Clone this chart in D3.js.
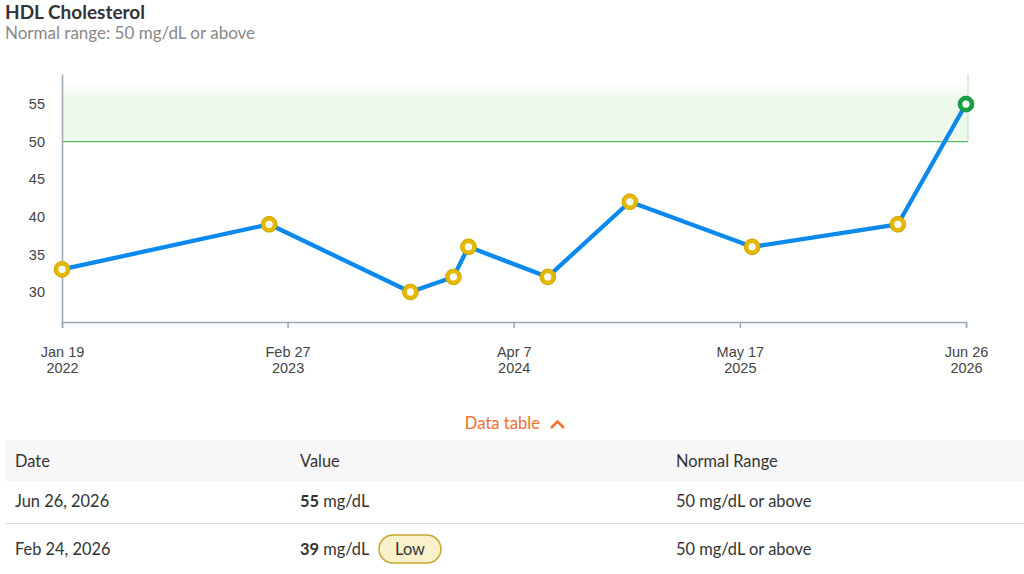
<!DOCTYPE html>
<html><head><meta charset="utf-8">
<script src="https://cdn.jsdelivr.net/npm/d3@7"></script>
<style>body{margin:0;background:#fff}svg{display:block}</style>
</head><body>
<svg id="c" width="1024" height="574"></svg>
<script>
// ---- data ----
const dates = ["2022-01-19","2023-01-25","2023-10-05","2023-12-21","2024-01-17","2024-06-07","2024-11-01","2025-06-08","2026-02-24","2026-06-26"];
const values = [33,39,30,32,36,32,42,36,39,55];
const xTickDates = ["2022-01-19","2023-02-27","2024-04-07","2025-05-17","2026-06-26"];
const yTicks = [30,35,40,45,50,55];
const normalMin = 50;
const tableHeaders = ["Date","Value","Normal Range"];
const tableDates = ["Jun 26, 2026","Feb 24, 2026"];
const tableValues = [55,39];
const tableFlags = ["","Low"];
const tableRange = ["50 mg/dL or above","50 mg/dL or above"];

const parse = d3.utcParse("%Y-%m-%d");
const data = dates.map((d,i)=>({date:parse(d), value:values[i]}));
const svg = d3.select("#c");
const sans = "Lato, 'Source Sans Pro', sans-serif";
const axisFont = "'Liberation Sans', Arial, sans-serif";

// title
svg.append("text").attr("x",5).attr("y",19).attr("font-family",sans).attr("font-weight",700)
  .attr("font-size",19).attr("fill","#333").text("HDL Cholesterol");
svg.append("text").attr("x",5).attr("y",39).attr("font-family",sans)
  .attr("font-size",17).attr("fill","#888").text("Normal range: 50 mg/dL or above");

const x = d3.scaleUtc().domain([parse(xTickDates[0]), parse(xTickDates[xTickDates.length-1])]).range([62,966]);
const y = d3.scaleLinear().domain([26,59]).range([322,74]);

// normal band with fading top
const defs = svg.append("defs");
const g = defs.append("linearGradient").attr("id","band").attr("x1",0).attr("x2",0).attr("y1",0).attr("y2",1);
g.append("stop").attr("offset","0%").attr("stop-color","#edf9ec").attr("stop-opacity",0);
g.append("stop").attr("offset","12%").attr("stop-color","#edf9ec").attr("stop-opacity",0);
g.append("stop").attr("offset","35%").attr("stop-color","#edf9ec").attr("stop-opacity",1);
g.append("stop").attr("offset","100%").attr("stop-color","#edf9ec").attr("stop-opacity",1);
svg.append("rect").attr("x",x.range()[0]).attr("y",y(59)).attr("width",x.range()[1]-x.range()[0]+2)
  .attr("height",y(normalMin)-y(59)).attr("fill","url(#band)");
svg.append("line").attr("x1",x.range()[1]+2).attr("x2",x.range()[1]+2).attr("y1",y(59)).attr("y2",y(normalMin))
  .attr("stroke","#b5e2b8").attr("stroke-width",1);
svg.append("line").attr("x1",x.range()[0]).attr("x2",x.range()[1]+2).attr("y1",y(normalMin)).attr("y2",y(normalMin))
  .attr("stroke","#5cbd69").attr("stroke-width",1.2);

// axes
const axisColor = "#9aa9b5";
const xAxis = svg.append("g").attr("transform","translate(0,322)")
  .call(d3.axisBottom(x).tickValues(xTickDates.map(parse)).tickSize(6).tickFormat(""));
xAxis.select(".domain").attr("stroke",axisColor).attr("stroke-width",1.5);
xAxis.selectAll(".tick line").attr("stroke",axisColor).attr("stroke-width",1.5);
xAxis.selectAll(".tick").each(function(d){
  const t = d3.select(this).append("text").attr("fill","#444").attr("font-family",axisFont)
    .attr("font-size",14.5).attr("text-anchor","middle");
  t.append("tspan").attr("x",0).attr("y",35).text(d3.utcFormat("%b %-d")(d));
  t.append("tspan").attr("x",0).attr("y",51).text(d3.utcFormat("%Y")(d));
});
const yAxis = svg.append("g").attr("transform","translate(62,0)")
  .call(d3.axisLeft(y).tickValues(yTicks).tickSize(0).tickPadding(17).tickSizeOuter(0));
yAxis.select(".domain").attr("stroke",axisColor).attr("stroke-width",1.5);
yAxis.selectAll(".tick text").attr("fill","#444").attr("font-family",axisFont).attr("font-size",14.5);

// line
svg.append("path").datum(data).attr("fill","none").attr("stroke","#0b89ec").attr("stroke-width",4.3)
  .attr("stroke-linejoin","round")
  .attr("d",d3.line().x(d=>x(d.date)).y(d=>y(d.value)));

// points
svg.selectAll("circle.pt").data(data).enter().append("circle").attr("class","pt")
  .attr("cx",d=>x(d.date)).attr("cy",d=>y(d.value)).attr("r",5.8)
  .attr("fill","#fff")
  .attr("stroke",d=>d.value>=normalMin?"#17a043":"#e6b900")
  .attr("stroke-width",4.4);
svg.selectAll("circle.ol").data(data).enter().append("circle").attr("class","ol")
  .attr("cx",d=>x(d.date)).attr("cy",d=>y(d.value)).attr("r",7.9)
  .attr("fill","none")
  .attr("stroke",d=>d.value>=normalMin?"#128a38":"#c49c00")
  .attr("stroke-width",0.8);

// data table toggle
svg.append("text").attr("x",540).attr("y",429).attr("text-anchor","end").attr("font-family",sans)
  .attr("font-size",16.6).attr("fill","#f26f2c").text("Data table");
svg.append("path").attr("d","M551,428 L557.5,421.5 L564,428").attr("fill","none")
  .attr("stroke","#f26f2c").attr("stroke-width",2.5);

// table
const colX = [15,300,676];
const fs = 16.4;
svg.append("rect").attr("x",5).attr("y",440).attr("width",1019).attr("height",41).attr("fill","#f7f7f7");
tableHeaders.forEach((h,i)=>svg.append("text").attr("x",colX[i]).attr("y",467).attr("font-family",sans)
  .attr("font-size",fs).attr("fill","#333").text(h));
const rowY = [507,555];
svg.append("line").attr("x1",5).attr("x2",1024).attr("y1",523.5).attr("y2",523.5).attr("stroke","#ddd").attr("stroke-width",1);
tableDates.forEach((d,i)=>{
  svg.append("text").attr("x",colX[0]).attr("y",rowY[i]).attr("font-family",sans).attr("font-size",fs)
    .attr("fill","#333").text(d);
  const t = svg.append("text").attr("x",colX[1]).attr("y",rowY[i]).attr("font-family",sans).attr("font-size",fs).attr("fill","#333");
  t.append("tspan").attr("font-weight",700).text(tableValues[i]);
  t.append("tspan").text(" mg/dL");
  if(tableFlags[i]){
    svg.append("rect").attr("x",379).attr("y",rowY[i]-20).attr("width",62).attr("height",28).attr("rx",14)
      .attr("fill","#f8f1c9").attr("stroke","#c7a734").attr("stroke-width",1.5);
    svg.append("text").attr("x",410).attr("y",rowY[i]).attr("text-anchor","middle").attr("font-family",sans)
      .attr("font-size",fs).attr("fill","#333").text(tableFlags[i]);
  }
  svg.append("text").attr("x",colX[2]).attr("y",rowY[i]).attr("font-family",sans).attr("font-size",fs)
    .attr("fill","#333").text(tableRange[i]);
});
</script>
</body></html>
